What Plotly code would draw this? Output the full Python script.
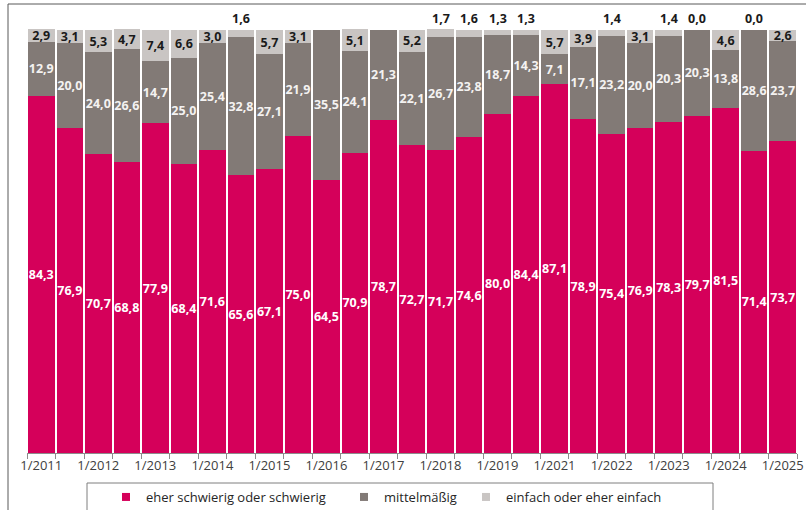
import plotly.graph_objects as go

categories = ["1/2011", "2/2011", "1/2012", "2/2012", "1/2013", "2/2013", "1/2014", "2/2014",
              "1/2015", "2/2015", "1/2016", "2/2016", "1/2017", "2/2017", "1/2018", "2/2018",
              "1/2019", "2/2019", "1/2021", "2/2021", "1/2022", "2/2022", "1/2023", "2/2023",
              "1/2024", "2/2024", "1/2025"]
schwierig = [84.3, 76.9, 70.7, 68.8, 77.9, 68.4, 71.6, 65.6, 67.1, 75.0, 64.5, 70.9, 78.7, 72.7,
             71.7, 74.6, 80.0, 84.4, 87.1, 78.9, 75.4, 76.9, 78.3, 79.7, 81.5, 71.4, 73.7]
mittel = [12.9, 20.0, 24.0, 26.6, 14.7, 25.0, 25.4, 32.8, 27.1, 21.9, 35.5, 24.1, 21.3, 22.1,
          26.7, 23.8, 18.7, 14.3, 7.1, 17.1, 23.2, 20.0, 20.3, 20.3, 13.8, 28.6, 23.7]
einfach = [2.9, 3.1, 5.3, 4.7, 7.4, 6.6, 3.0, 1.6, 5.7, 3.1, None, 5.1, None, 5.2,
           1.7, 1.6, 1.3, 1.3, 5.7, 3.9, 1.4, 3.1, 1.4, 0.0, 4.6, 0.0, 2.6]
series_names = ["eher schwierig oder schwierig", "mittelmäßig", "einfach oder eher einfach"]
tick_text = [c if c.startswith("1/") else "" for c in categories]

C_PINK = "#D5005A"
C_MID = "#827A76"
C_LIGHT = "#C9C5C3"


def fmt(v):
    return "" if v is None else f"{v:.1f}".replace(".", ",")


label_font = dict(family="Open Sans", size=12.5, weight="bold")
bar_common = dict(textposition="inside", insidetextanchor="middle", textangle=0,
                  constraintext="none", showlegend=False, hoverinfo="skip", cliponaxis=False)

fig = go.Figure()
fig.add_trace(go.Bar(
    x=categories, y=schwierig, name=series_names[0], marker=dict(color=C_PINK, line_width=0),
    text=[fmt(v) for v in schwierig], textfont=dict(color="white", **label_font), **bar_common))
fig.add_trace(go.Bar(
    x=categories, y=mittel, name=series_names[1], marker=dict(color=C_MID, line_width=0),
    text=[fmt(v) for v in mittel], textfont=dict(color="#F4F2F1", **label_font), **bar_common))
fig.add_trace(go.Bar(
    x=categories, y=einfach, name=series_names[2], marker=dict(color=C_LIGHT, line_width=0),
    text=[fmt(v) if (v is not None and v >= 2) else "" for v in einfach],
    textfont=dict(color="#1A1A1A", **label_font), **bar_common))

# legend entries (square swatches)
for name, col, leg in zip(series_names, [C_PINK, C_MID, C_LIGHT], ["legend", "legend2", "legend3"]):
    fig.add_trace(go.Scatter(x=[None], y=[None], mode="markers", name=name,
                             marker=dict(symbol="square", size=8, color=col),
                             legend=leg, showlegend=True, hoverinfo="skip"))

annotations = []
for c, v in zip(categories, einfach):
    if v is not None and v < 2:
        annotations.append(dict(x=c, y=100, xref="x", yref="y", text=fmt(v), showarrow=False,
                                yanchor="bottom", yshift=1,
                                font=dict(family="Open Sans", size=12.5, weight="bold", color="#1A1A1A")))

W, H = 806, 510
L, R, T, B = 27, 9, 29, 57
pw, ph = W - L - R, H - T - B


def px_x(x):
    return (x - L) / pw


def px_y(y):
    return (H - B - y) / ph


shapes = [
    dict(type="line", xref="paper", yref="paper", x0=px_x(8), x1=px_x(806), y0=px_y(4), y1=px_y(4),
         line=dict(color="#595959", width=1)),
    dict(type="line", xref="paper", yref="paper", x0=px_x(8), x1=px_x(8), y0=px_y(4), y1=px_y(512),
         line=dict(color="#595959", width=1)),
    dict(type="rect", xref="paper", yref="paper", x0=px_x(87), x1=px_x(713), y0=px_y(483), y1=px_y(515),
         line=dict(color="#7F7F7F", width=1), fillcolor="rgba(0,0,0,0)"),
]

leg_font = dict(family="Open Sans", size=13, color="#262626")
leg_common = dict(orientation="h", yanchor="middle", y=px_y(497), xanchor="left",
                  bgcolor="rgba(0,0,0,0)", borderwidth=0, font=leg_font, itemwidth=30)

fig.update_layout(
    width=W, height=H, margin=dict(l=L, r=R, t=T, b=B, pad=0, autoexpand=False),
    barmode="stack", bargap=0.07,
    paper_bgcolor="white", plot_bgcolor="white",
    showlegend=True,
    legend=dict(x=px_x(106), **leg_common),
    legend2=dict(x=px_x(344), **leg_common),
    legend3=dict(x=px_x(466), **leg_common),
    xaxis=dict(type="category", tickmode="array", tickvals=categories, ticktext=tick_text,
               tickson="boundaries", ticks="outside", ticklen=5, tickcolor="#8C8C8C",
               showline=True, linecolor="#8C8C8C", linewidth=1, showgrid=False, automargin=False,
               tickfont=dict(family="Open Sans", size=13, color="#404040"), tickangle=0),
    yaxis=dict(range=[0, 100.2], visible=False, showgrid=False, fixedrange=True, automargin=False),
    annotations=annotations,
    shapes=shapes,
)

fig.write_html("out.html", config={"displayModeBar": False},
               post_script="document.body.style.margin='0';document.body.style.overflow='hidden';")
